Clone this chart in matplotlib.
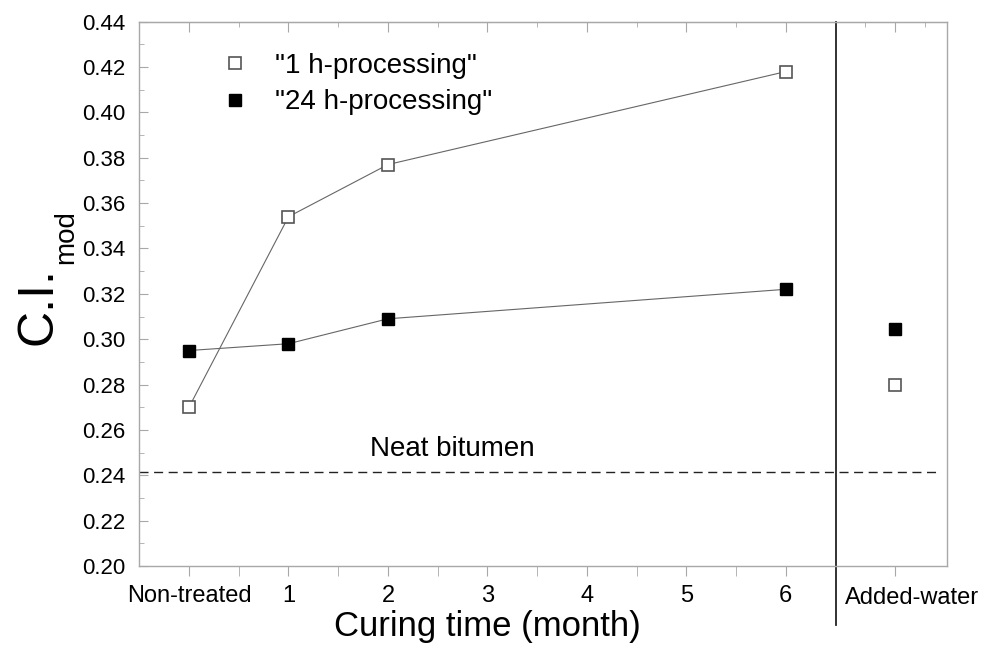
"""
C.I.mod versus curing time for the two processing times.
"""

import matplotlib.pyplot as plt
import numpy as np
from matplotlib.lines import Line2D

plt.rcParams["font.family"] = ["Liberation Sans", "DejaVu Sans"]

# curing time (0 = non-treated)
months = [0, 1, 2, 6]
ci_1h = [0.270, 0.354, 0.377, 0.418]
ci_24h = [0.295, 0.298, 0.309, 0.322]

# added-water samples, drawn in the right-hand panel
water_x = 7.1
water_1h = 0.280
water_24h = 0.3045

neat_bitumen = 0.2415

x_ticks = [0, 1, 2, 3, 4, 5, 6]
x_labels = ["Non-treated", "1", "2", "3", "4", "5", "6"]
series_labels = ['"1 h-processing"', '"24 h-processing"']

GRAY = "#a8a8a8"

fig = plt.figure(figsize=(9.87, 6.51), dpi=100)
ax = fig.add_axes([0.1411, 0.1306, 0.8184, 0.8361])

# connecting lines + markers
ax.plot(months, ci_1h, color="#666666", lw=0.8, marker="s", ms=8.5,
        mfc="white", mec="#555555", mew=1.2, zorder=3)
ax.plot(months, ci_24h, color="#666666", lw=0.8, marker="s", ms=8.5,
        mfc="black", mec="black", mew=1.0, zorder=3)
ax.plot([water_x], [water_1h], ls="none", marker="s", ms=8.5,
        mfc="white", mec="#555555", mew=1.2, zorder=3)
ax.plot([water_x], [water_24h], ls="none", marker="s", ms=8.5,
        mfc="black", mec="black", mew=1.0, zorder=3)

# neat bitumen reference
ax.axhline(neat_bitumen, xmin=0, xmax=0.993, color="#222222", lw=1.0,
           ls=(0, (6.5, 4)))
ax.text(2.65, 0.2514, "Neat bitumen", fontsize=20, ha="center", va="center")

# separator between curing-time and added-water panels
ax.axvline(6.5, ymin=-0.108, ymax=1, color="#222222", lw=1.3, clip_on=False)

# axes limits / ticks
ax.set_xlim(-0.5, 7.62)
ax.set_ylim(0.20, 0.44)

ax.set_xticks(x_ticks + [water_x], labels=x_labels + [""])
ax.set_xticks(np.arange(0.5, 6, 1), minor=True)
ax.tick_params(axis="x", which="both", direction="out", length=7,
               color=GRAY, labelsize=17, pad=7, top=False)

ax.set_yticks(np.arange(0.20, 0.4401, 0.02))
ax.set_yticks(np.arange(0.21, 0.44, 0.02), minor=True)
ax.yaxis.set_major_formatter(plt.FormatStrFormatter("%.2f"))
ax.tick_params(axis="y", which="major", direction="in", length=6.5,
               color=GRAY, labelsize=16, pad=10, right=False)
ax.tick_params(axis="y", which="minor", direction="in", length=3.4,
               color=GRAY, right=False)

top = ax.secondary_xaxis("top")
top.set_xticks(x_ticks + [water_x], labels=[])
top.set_xticks(list(np.arange(0.5, 6, 1)) + [6.8, 7.4], minor=True)
top.tick_params(axis="x", which="major", direction="in", length=7, color=GRAY)
top.tick_params(axis="x", which="minor", direction="in", length=3.6, color=GRAY)
top.spines["top"].set_color(GRAY)

for side in ["left", "right", "bottom", "top"]:
    ax.spines[side].set_color(GRAY)
    ax.spines[side].set_linewidth(1.0)

# extra labels
ax.text(7.27, -0.0698, "Added-water", fontsize=17, ha="center", va="baseline",
        transform=ax.get_xaxis_transform())
ax.text(3.0, -0.1286, "Curing time (month)", fontsize=25, ha="center",
        va="baseline", transform=ax.get_xaxis_transform())

# y label: "C.I." with a dropped subscript "mod"
ci_txt = fig.text(52 / 987, 1 - 345 / 651, "C.I.", fontsize=36, rotation=90,
                  rotation_mode="anchor", ha="left", va="baseline")
fig.canvas.draw()
ci_top = ci_txt.get_window_extent().y1 / fig.bbox.height
fig.text(73 / 987, ci_top + 0.004, "mod", fontsize=20, rotation=90,
         rotation_mode="anchor", ha="left", va="baseline")

# legend (markers only)
handles = [
    Line2D([], [], ls="none", marker="s", ms=8.5, mfc="white",
           mec="#555555", mew=1.2),
    Line2D([], [], ls="none", marker="s", ms=8.5, mfc="black",
           mec="black", mew=1.0),
]
ax.legend(handles, series_labels, loc="upper left",
          bbox_to_anchor=(0.101, 0.9425), frameon=False, fontsize=20,
          handlelength=1.0, handletextpad=0.94, labelspacing=0.37,
          borderpad=0, borderaxespad=0, numpoints=1)

fig.savefig("out.png", dpi=100)
plt.close(fig)
